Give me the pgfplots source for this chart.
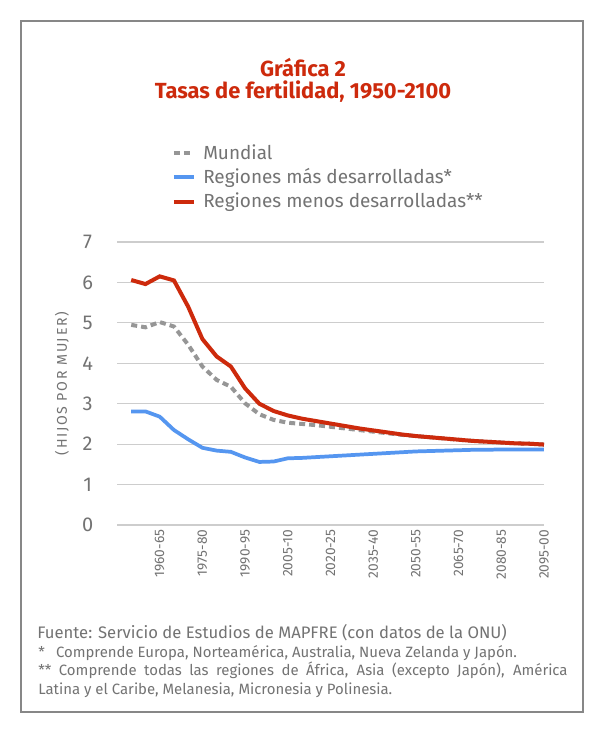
\documentclass[border=0pt]{standalone}
\usepackage{fontspec}
\setmainfont{Fira Sans}
\usepackage{pgfplots}
\pgfplotsset{compat=1.18}
\usepackage{pgfplotstable}
\definecolor{cred}{RGB}{205,42,12}
\definecolor{cblue}{RGB}{85,150,240}
\definecolor{cgray}{RGB}{150,150,150}
\definecolor{ctext}{RGB}{115,115,115}
\definecolor{cgrid}{RGB}{205,205,205}
\definecolor{cframe}{RGB}{135,135,135}
\pgfplotstableread{
i world more less
0 4.95 2.81 6.06
1 4.89 2.81 5.96
2 5.02 2.68 6.15
3 4.91 2.35 6.05
4 4.46 2.12 5.40
5 3.92 1.91 4.60
6 3.59 1.84 4.17
7 3.42 1.81 3.92
8 3.01 1.67 3.38
9 2.74 1.56 3.00
10 2.60 1.57 2.82
11 2.53 1.65 2.71
12 2.50 1.66 2.63
13 2.47 1.68 2.57
14 2.43 1.70 2.51
15 2.39 1.72 2.45
16 2.35 1.74 2.39
17 2.31 1.76 2.34
18 2.27 1.78 2.29
19 2.23 1.80 2.24
20 2.20 1.82 2.20
21 2.17 1.83 2.17
22 2.14 1.84 2.14
23 2.11 1.85 2.11
24 2.08 1.86 2.08
25 2.06 1.86 2.06
26 2.04 1.87 2.04
27 2.02 1.87 2.02
28 2.01 1.87 2.01
29 1.99 1.87 1.99
}\datatable
\begin{document}
\begin{tikzpicture}
\path[fill=white] (0,0) rectangle (450pt,-555pt);
\draw[cframe, line width=1.5pt] (15.75pt,-15.75pt) rectangle (437.25pt,-534pt);
\begin{scope}[x=0.75pt,y=-0.75pt]
\node[text=cred, font=\fontsize{16.4}{19}\selectfont\bfseries] at (303,68) {Gráfica 2};
\node[text=cred, font=\fontsize{16.4}{19}\selectfont\bfseries] at (303,92) {Tasas de fertilidad, 1950-2100};
\node[anchor=west, text=ctext, inner sep=0pt, font=\fontsize{12.5}{14}\selectfont] at (37,633) {Fuente: Servicio de Estudios de MAPFRE (con datos de la ONU)};
\node[anchor=north west, text=ctext, inner sep=0pt, text width=397pt, align=justify, font=\fontsize{11.2}{13.9}\selectfont] at (38,645)
{*\hspace{0.75em}Comprende Europa, Norteamérica, Australia, Nueva Zelanda y Japón.\par
** Comprende todas las regiones de África, Asia (excepto Japón), América\linebreak Latina y el Caribe, Melanesia, Micronesia y Polinesia.};
\end{scope}
\begin{axis}[
  at={(87.75pt,-393.75pt)}, anchor=south west,
  scale only axis, width=320.25pt, height=212.25pt,
  xmin=-1, xmax=29, ymin=0, ymax=7,
  ytick={0,1,2,3,4,5,6,7},
  xtick={2,5,8,11,14,17,20,23,26,29},
  xticklabels={1960-65,1975-80,1990-95,2005-10,2020-25,2035-40,2050-55,2065-70,2080-85,2095-00},
  x tick label style={rotate=90, anchor=east, font=\fontsize{10.3}{12}\selectfont, text=ctext},
  y tick label style={font=\fontsize{15}{17}\selectfont, text=ctext, anchor=center, xshift=-22pt},
  /pgf/number format/assume math mode=true,
  axis line style={draw=none},
  major tick length=0pt,
  ymajorgrids, grid style={cgrid, line width=0.9pt},
  ylabel={\addfontfeatures{LetterSpace=12}(HIJOS POR MUJER)},
  ylabel style={font=\fontsize{10.6}{12}\selectfont, text=ctext, anchor=center, at={(axis description cs:-0.129,0.5)}},
  clip=false,
  legend cell align=left,
  legend style={draw=none, fill=none, at={(axis description cs:0.128,1.35)}, anchor=north west,
    font=\fontsize{14.2}{16}\selectfont, text=ctext, row sep=3.5pt, inner sep=0pt,
    nodes={inner sep=1pt}},
  legend image code/.code={\draw[#1] (0pt,0pt) -- (15pt,0pt); \path[draw=none] (0pt,0pt) -- (21pt,0pt);},
]
\addplot[cgray, line width=3pt, dash pattern=on 4.5pt off 3pt] table[x=i, y=world] {\datatable};
\addlegendentry{Mundial}
\addplot[cblue, line width=2.8pt] table[x=i, y=more] {\datatable};
\addlegendentry{Regiones más desarrolladas*}
\addplot[cred, line width=3pt] table[x=i, y=less] {\datatable};
\addlegendentry{Regiones menos desarrolladas**}
\end{axis}
\end{tikzpicture}
\end{document}
